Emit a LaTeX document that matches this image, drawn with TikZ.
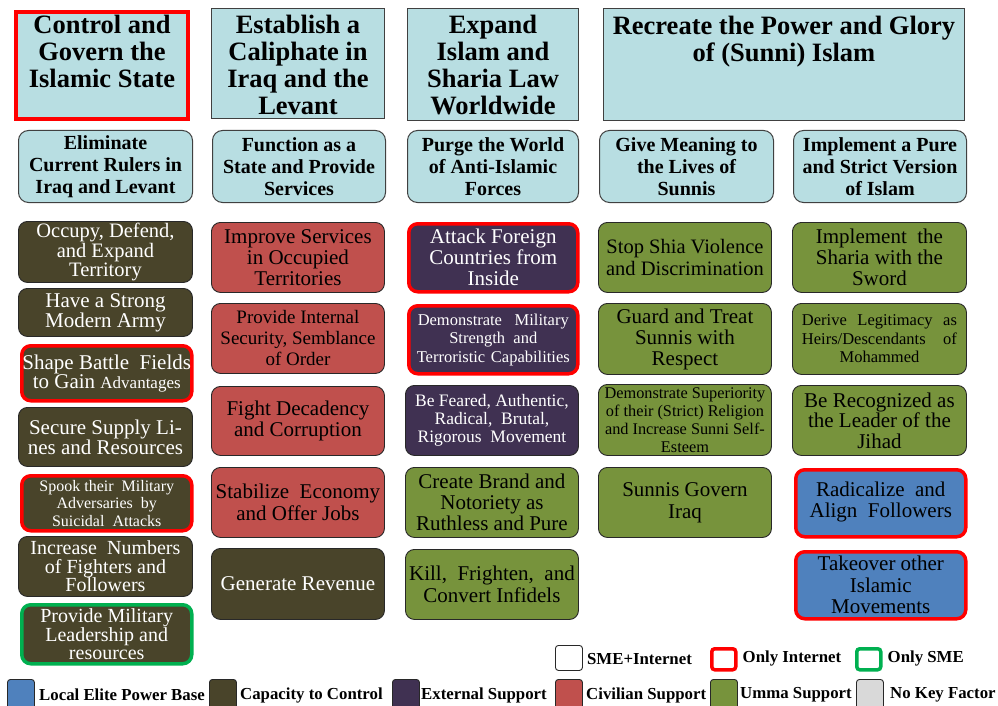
\documentclass[tikz,border=0pt]{standalone}
\usepackage{fontspec}
\setmainfont{Liberation Serif}
\definecolor{hdrfill}{RGB}{184,222,226}
\definecolor{hdrline}{RGB}{64,64,64}
\definecolor{boxline}{RGB}{40,40,40}
\definecolor{capcol}{RGB}{73,68,42}
\definecolor{extcol}{RGB}{64,49,82}
\definecolor{civcol}{RGB}{192,80,77}
\definecolor{ummacol}{RGB}{119,147,60}
\definecolor{elitecol}{RGB}{79,129,189}
\definecolor{nokey}{RGB}{217,217,217}
\definecolor{smegreen}{RGB}{0,176,80}
\tikzset{
  hdr/.style={draw=hdrline, fill=hdrfill, line width=1pt, anchor=north west, inner sep=0pt},
  hdrtxt/.style={anchor=north, align=center, inner sep=0pt, font=\bfseries\fontsize{26.5}{27}\selectfont},
  subbox/.style={draw=hdrline, fill=hdrfill, line width=1pt, rounded corners=10pt, anchor=north west, align=center, inner sep=0pt, font=\bfseries\fontsize{20}{22}\selectfont},
  bx/.style={draw=boxline, line width=0.9pt, rounded corners=9pt, anchor=north west, align=center, inner sep=0pt, font=\fontsize{21}{21}\selectfont},
  capbox/.style={bx, fill=capcol, text=white},
  extbox/.style={bx, fill=extcol, text=white},
  civbox/.style={bx, fill=civcol},
  ummabox/.style={bx, fill=ummacol},
  elitebox/.style={bx, fill=elitecol},
  onlynet/.style={draw=red, line width=3.5pt},
  onlysme/.style={draw=smegreen, line width=3.5pt},
  lgsq/.style={draw=boxline, line width=0.9pt, rounded corners=3pt, anchor=north west, inner sep=0pt, minimum width=27pt, minimum height=25pt},
  lgtxt/.style={anchor=west, inner sep=0pt, font=\bfseries\fontsize{16.8}{18}\selectfont}
}
\newcommand\gbox[7]{\node[#2, minimum width=#5pt, minimum height=#6pt] (#1) at (#3,#4) {#7};}
\begin{document}
\begin{tikzpicture}[x=1pt, y=-1pt]
\clip (0,0) rectangle (998,706);
\fill[white] (0,0) rectangle (998,706);
% top headers
\node[hdr, draw=red, line width=4pt, minimum width=172pt, minimum height=107pt] (h1) at (14,10) {};
\node[hdrtxt] at ([yshift=-5pt]h1.north) {Control and\\Govern the\\Islamic State};
\node[hdr, minimum width=173pt, minimum height=110pt] (h2) at (211,8) {};
\node[hdrtxt] at ([yshift=-7pt]h2.north) {Establish a\\Caliphate in\\Iraq and the\\Levant};
\node[hdr, minimum width=171pt, minimum height=112pt] (h3) at (407,8) {};
\node[hdrtxt] at ([yshift=-7pt]h3.north) {Expand\\Islam and\\Sharia Law\\Worldwide};
\node[hdr, minimum width=361pt, minimum height=112pt] (h4) at (603,8) {};
\node[hdrtxt] at ([yshift=-8pt]h4.north) {Recreate the Power and Glory\\of (Sunni) Islam};
% second row
\gbox{s1}{subbox}{18}{130}{174}{72}{Eliminate\\Current Rulers in\\Iraq and Levant}
\gbox{s2}{subbox}{212}{130}{173}{72}{Function as a\\State and Provide\\Services}
\gbox{s3}{subbox}{407}{130}{171}{72}{Purge the World\\of Anti-Islamic\\Forces}
\gbox{s4}{subbox}{599}{130}{174}{72}{Give Meaning to\\the Lives of\\Sunnis}
\gbox{s5}{subbox}{793}{130}{173}{72}{Implement a Pure\\and Strict Version\\of Islam}
% column 1
\gbox{c1a}{capbox,font=\fontsize{20.5}{17.8}\selectfont}{18}{221}{174}{61}{Occupy, Defend,\\and Expand\\Territory}
\gbox{c1b}{capbox,font=\fontsize{21}{18}\selectfont}{18}{288}{174}{48}{Have a Strong\\Modern Army}
\gbox{c1c}{capbox,onlynet,font=\fontsize{21}{18}\selectfont}{20}{344}{170}{55}{Shape Battle \ Fields\\to Gain {\fontsize{17}{18}\selectfont Advantages}}
\gbox{c1d}{capbox,font=\fontsize{21}{17.5}\selectfont}{18}{407}{174}{59}{Secure Supply Li-\\nes and Resources}
\gbox{c1e}{capbox,onlynet,font=\fontsize{16}{17.5}\selectfont}{20}{474}{170}{55}{Spook their \ Military\\Adversaries \ by\\Suicidal \ Attacks}
\gbox{c1f}{capbox,font=\fontsize{20}{18.7}\selectfont}{18}{536}{174}{60}{Increase \ Numbers\\of Fighters and\\Followers}
\gbox{c1g}{capbox,onlysme,font=\fontsize{20}{18.5}\selectfont}{20}{603}{170}{59}{Provide Military\\Leadership and\\resources}
% column 2
\gbox{c2a}{civbox}{211}{222}{173}{70}{Improve Services\\in Occupied\\Territories}
\gbox{c2b}{civbox,font=\fontsize{19}{21}\selectfont}{211}{303}{173}{70}{Provide Internal\\Security, Semblance\\of Order}
\gbox{c2c}{civbox}{211}{386}{173}{69}{Fight Decadency\\and Corruption}
\gbox{c2d}{civbox,font=\fontsize{21}{22}\selectfont}{211}{467}{173}{70}{Stabilize \ Economy\\and Offer Jobs}
\gbox{c2e}{capbox}{211}{548}{173}{71}{Generate Revenue}
% column 3
\gbox{c3a}{extbox,onlynet}{407}{222}{169}{68}{Attack Foreign\\Countries from\\Inside}
\gbox{c3b}{extbox,onlynet,font=\fontsize{16.5}{18.5}\selectfont}{407}{304}{169}{68}{\makebox[151pt][s]{Demonstrate Military}\\Strength \ and\\\makebox[153pt][s]{Terroristic Capabilities}}
\gbox{c3c}{extbox,font=\fontsize{17.5}{18}\selectfont}{405}{385}{173}{70}{Be Feared, Authentic,\\Radical, \ Brutal,\\Rigorous \ Movement}
\gbox{c3d}{ummabox}{405}{467}{173}{70}{Create Brand and\\Notoriety as\\Ruthless and Pure}
\gbox{c3e}{ummabox,font=\fontsize{21}{22}\selectfont}{405}{549}{173}{70}{Kill, \ Frighten, \ and\\Convert Infidels}
% column 4
\gbox{c4a}{ummabox,font=\fontsize{20.5}{22}\selectfont}{598}{222}{173}{70}{Stop Shia Violence\\and Discrimination}
\gbox{c4b}{ummabox}{598}{303}{173}{71}{Guard and Treat\\Sunnis with\\Respect}
\gbox{c4c}{ummabox,font=\fontsize{16.3}{18}\selectfont}{598}{384}{173}{71}{Demonstrate Superiority\\of their (Strict) Religion\\and Increase Sunni Self-\\Esteem}
\gbox{c4d}{ummabox,font=\fontsize{21}{22}\selectfont}{598}{467}{173}{70}{Sunnis Govern\\Iraq}
% column 5
\gbox{c5a}{ummabox}{792}{222}{174}{70}{Implement \ the\\Sharia with the\\Sword}
\gbox{c5b}{ummabox,font=\fontsize{16.5}{18.5}\selectfont}{792}{303}{174}{71}{\makebox[155pt][s]{Derive Legitimacy as}\\\makebox[155pt][s]{Heirs/Descendants of}\\Mohammed}
\gbox{c5c}{ummabox,font=\fontsize{21}{20.5}\selectfont}{792}{385}{174}{70}{Be Recognized as\\the Leader of the\\Jihad}
\gbox{c5d}{elitebox,onlynet}{794}{468}{170}{67}{\raisebox{4pt}{\begin{tabular}{@{}c@{}}Radicalize \ and\\Align \ Followers\end{tabular}}}
\gbox{c5e}{elitebox,onlynet,font=\fontsize{21}{21.5}\selectfont}{794}{550}{170}{67}{Takeover other\\Islamic\\Movements}
% legend row 1
\node[lgsq, fill=white] (k1) at (555,645) {};
\node[lgtxt] (k1t) at ([xshift=4pt,yshift=-1pt]k1.east) {SME+Internet};
\node[lgsq, fill=white, onlynet, minimum width=24pt, minimum height=21pt] (k2) at (710,647) {};
\node[lgtxt] (k2t) at ([xshift=5pt,yshift=1pt]k2.east) {Only Internet};
\node[lgsq, fill=white, onlysme, minimum width=24pt, minimum height=21pt] (k3) at (855,647) {};
\node[lgtxt] (k3t) at ([xshift=5pt,yshift=1pt]k3.east) {Only SME};
% legend row 2
\node[lgsq, fill=elitecol, minimum height=34pt] (l1) at (7,679) {};
\node[lgtxt] (l1t) at (39,695) {Local Elite Power Base};
\node[lgsq, fill=capcol, minimum height=34pt] (l2) at (209,679) {};
\node[lgtxt] (l2t) at (240,695) {Capacity to Control};
\node[lgsq, fill=extcol, minimum height=34pt] (l3) at (392,679) {};
\node[lgtxt] (l3t) at (421,695) {External Support};
\node[lgsq, fill=civcol, minimum height=34pt] (l4) at (555,679) {};
\node[lgtxt] (l4t) at (586,695) {Civilian Support};
\node[lgsq, fill=ummacol, minimum height=34pt] (l5) at (710,679) {};
\node[lgtxt] (l5t) at (740,695) {Umma Support};
\node[lgsq, fill=nokey, minimum height=34pt] (l6) at (856,679) {};
\node[lgtxt] (l6t) at (890,695) {No Key Factor};
\end{tikzpicture}
\end{document}
